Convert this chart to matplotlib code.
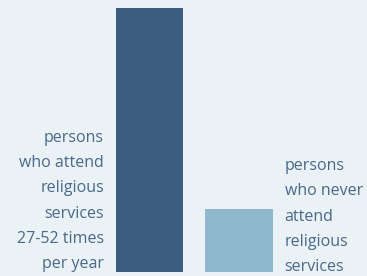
import matplotlib.pyplot as plt

# share of respondents (bar heights)
labels = ['persons\nwho attend\nreligious\nservices\n27-52 times\nper year',
          'persons\nwho never\nattend\nreligious\nservices']
values = [100, 24]
colors = ['#3a5d80', '#8fb8ce']

bg = '#eaf2f6'
text_color = '#4a6888'
width = 0.75

fig = plt.figure(figsize=(3.67, 2.76), dpi=100, facecolor=bg)
ax = fig.add_axes([0, 0, 1, 1])
ax.set_facecolor(bg)

x = [0, 1]
ax.bar(x, values, width=width, color=colors, edgecolor='none')

ax.set_xlim(-1.670, 2.430)
ax.set_ylim(-1.515, 103.03)
ax.axis('off')

# left label sits right-aligned before the first bar, right label after the second
ax.annotate(labels[0], xy=(x[0] - width / 2, 0), xytext=(-12, 4),
            textcoords='offset pixels', ha='right', va='baseline',
            multialignment='right', fontsize=11.5, family='Open Sans',
            color=text_color, linespacing=1.77)
ax.annotate(labels[1], xy=(x[1] + width / 2, 0), xytext=(12, 1),
            textcoords='offset pixels', ha='left', va='baseline',
            multialignment='left', fontsize=11.5, family='Open Sans',
            color=text_color, linespacing=1.77)

fig.savefig('out.png', dpi=100, facecolor=bg)
